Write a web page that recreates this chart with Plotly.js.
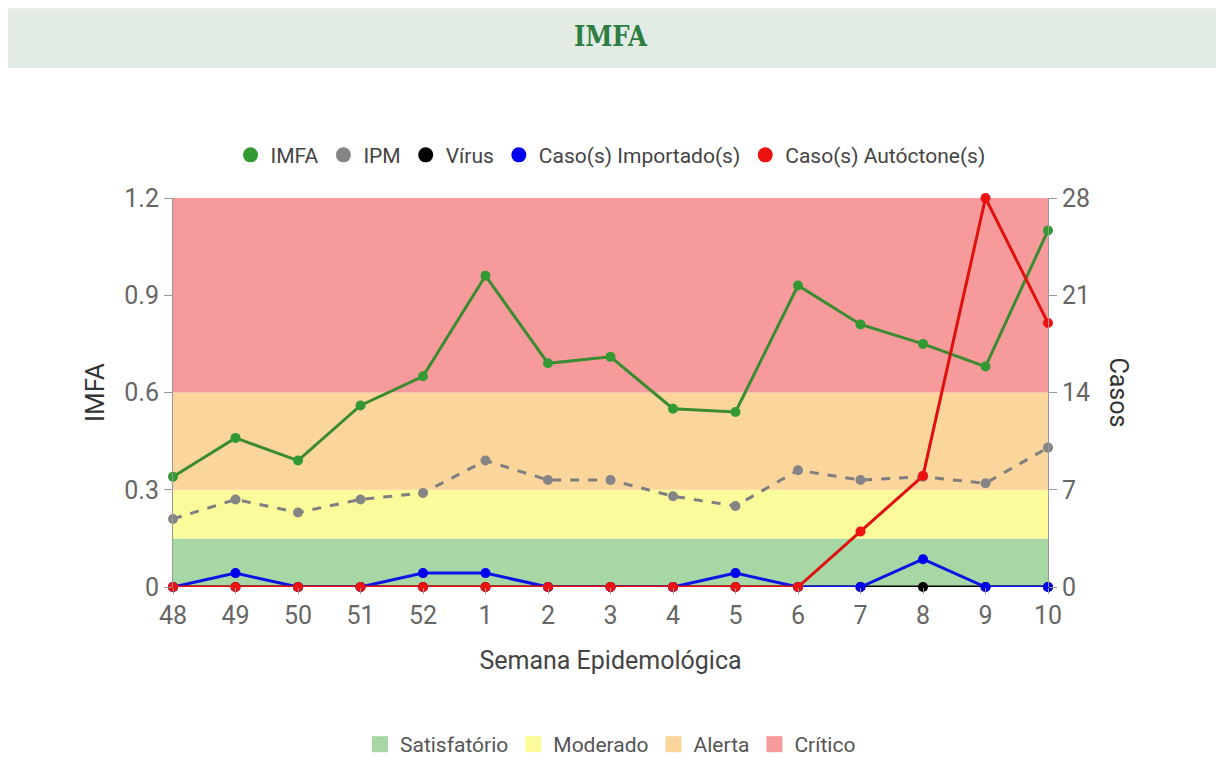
<!DOCTYPE html>
<html>
<head>
<meta charset="utf-8">
<script src="https://cdn.plot.ly/plotly-3.0.1.min.js"></script>
<style>
html,body{margin:0;padding:0;background:#fff;}
#chart{width:1216px;height:760px;}
</style>
</head>
<body>
<div id="chart"></div>
<script>
const semanas = ["48","49","50","51","52","1","2","3","4","5","6","7","8","9","10"];
const imfa = [0.34,0.46,0.39,0.56,0.65,0.96,0.69,0.71,0.55,0.54,0.93,0.81,0.75,0.68,1.10];
const ipm = [0.21,0.27,0.23,0.27,0.29,0.39,0.33,0.33,0.28,0.25,0.36,0.33,0.34,0.32,0.43];
const virus = [0,0,0,0,0,0,0,0,0,0,0,0,0,0,0];
const importados = [0,1,0,0,1,1,0,0,0,1,0,0,2,0,0];
const autoctones = [0,0,0,0,0,0,0,0,0,0,0,4,8,28,19];

const bandNames = ["Satisfatório","Moderado","Alerta","Crítico"];
const bandLow = [0,0.15,0.3,0.6];
const bandHigh = [0.15,0.3,0.6,1.2];
const bandColors = ["#a8d7a6","#fcfb9c","#fad59c","#f79a9b"];

const leftTicks = [0,0.3,0.6,0.9,1.2];
const leftLabels = ["0","0.3","0.6","0.9","1.2"];
const rightTicks = [0,7,14,21,28];

const series = [
  {name:"IMFA", y:imfa, axis:"y", color:"#3b8c30", mcolor:"#339a33", dash:"solid", width:3},
  {name:"IPM", y:ipm, axis:"y", color:"#7f7f7f", mcolor:"#858585", dash:"dash", width:3},
  {name:"Vírus", y:virus, axis:"y2", color:"#000000", mcolor:"#000000", dash:"solid", width:3},
  {name:"Caso(s) Importado(s)", y:importados, axis:"y2", color:"#0a14e6", mcolor:"#0000ee", dash:"solid", width:3},
  {name:"Caso(s) Autóctone(s)", y:autoctones, axis:"y2", color:"#e01010", mcolor:"#ee1111", dash:"solid", width:3}
];

const traces = [];
series.forEach(s => {
  traces.push({
    type:"scatter", mode:"lines+markers", name:s.name, x:semanas, y:s.y, yaxis:s.axis,
    line:{color:s.color, width:s.width, dash:s.dash},
    marker:{color:s.mcolor, size:10},
    showlegend:false, legendgroup:s.name, cliponaxis:false
  });
});
series.forEach(s => {
  traces.push({
    type:"scatter", mode:"markers", name:s.name, x:[null], y:[null],
    marker:{color:s.mcolor, size:15, symbol:"circle"},
    legend:"legend", legendgroup:s.name, showlegend:true
  });
});
bandNames.forEach((n,i) => {
  traces.push({
    type:"scatter", mode:"markers", name:n, x:[null], y:[null],
    marker:{color:bandColors[i], size:30, symbol:"square"},
    legend:"legend2", showlegend:true
  });
});

const shapes = bandNames.map((n,i) => ({
  type:"rect", xref:"paper", yref:"y", x0:0, x1:1, y0:bandLow[i], y1:bandHigh[i],
  fillcolor:bandColors[i], line:{width:0}, layer:"below"
}));
// title bar
shapes.push({type:"rect", xref:"paper", yref:"paper", x0:-0.1886, x1:1.2, y0:1.334, y1:1.488,
  fillcolor:"#e3ece4", line:{width:0}, layer:"below"});

const tickFont = {family:"Roboto, sans-serif", size:25, color:"#666"};

const layout = {
  width:1216, height:760, autosize:false,
  margin:{l:173, r:168, t:198, b:173, autoexpand:false},
  paper_bgcolor:"#ffffff", plot_bgcolor:"rgba(0,0,0,0)",
  font:{family:"Roboto, sans-serif", color:"#444"},
  title:{text:"<b>IMFA</b>", x:0.5, xref:"paper", y:0.952, yref:"container", yanchor:"middle",
    font:{family:"DejaVu Serif Condensed, DejaVu Serif, serif", size:27, color:"#2e7d45"}},
  xaxis:{type:"category", range:[0,14], showgrid:false, zeroline:false,
    tickvals:semanas, ticktext:semanas,
    ticks:"outside", ticklen:6, tickcolor:"#999", showline:false,
    tickfont:tickFont,
    title:{text:"Semana Epidemológica", font:{family:"Roboto, sans-serif", size:25, color:"#444"}, standoff:22}},
  yaxis:{range:[0,1.2], tickvals:leftTicks, ticktext:leftLabels,
    showgrid:false, zeroline:false, showline:true, linecolor:"#999", linewidth:1,
    ticks:"outside", ticklen:8, tickcolor:"#999", tickfont:tickFont,
    title:{text:"IMFA", font:{family:"Roboto, sans-serif", size:26, color:"#333"}, standoff:12}},
  yaxis2:{overlaying:"y", side:"right", range:[0,28], tickvals:rightTicks,
    showgrid:false, zeroline:false, showline:true, linecolor:"#999", linewidth:1,
    ticks:"outside", ticklen:8, tickcolor:"#999", tickfont:tickFont},
  legend:{orientation:"h", x:0.5, xanchor:"center", y:1.11, yanchor:"middle",
    font:{family:"Roboto, sans-serif", size:21, color:"#444"}, itemclick:false, itemdoubleclick:false},
  legend2:{orientation:"h", x:0.5, xanchor:"center", y:-0.405, yanchor:"middle",
    font:{family:"Roboto, sans-serif", size:21, color:"#555"}, itemsizing:"trace", itemclick:false, itemdoubleclick:false},
  shapes:shapes,
  annotations:[{text:"Casos", xref:"paper", yref:"paper", x:1.08, y:0.5, xanchor:"center", yanchor:"middle",
    textangle:90, showarrow:false, font:{family:"Roboto, sans-serif", size:25, color:"#333"}}]
};

Plotly.newPlot("chart", traces, layout, {displayModeBar:false, staticPlot:true});
</script>
</body>
</html>
